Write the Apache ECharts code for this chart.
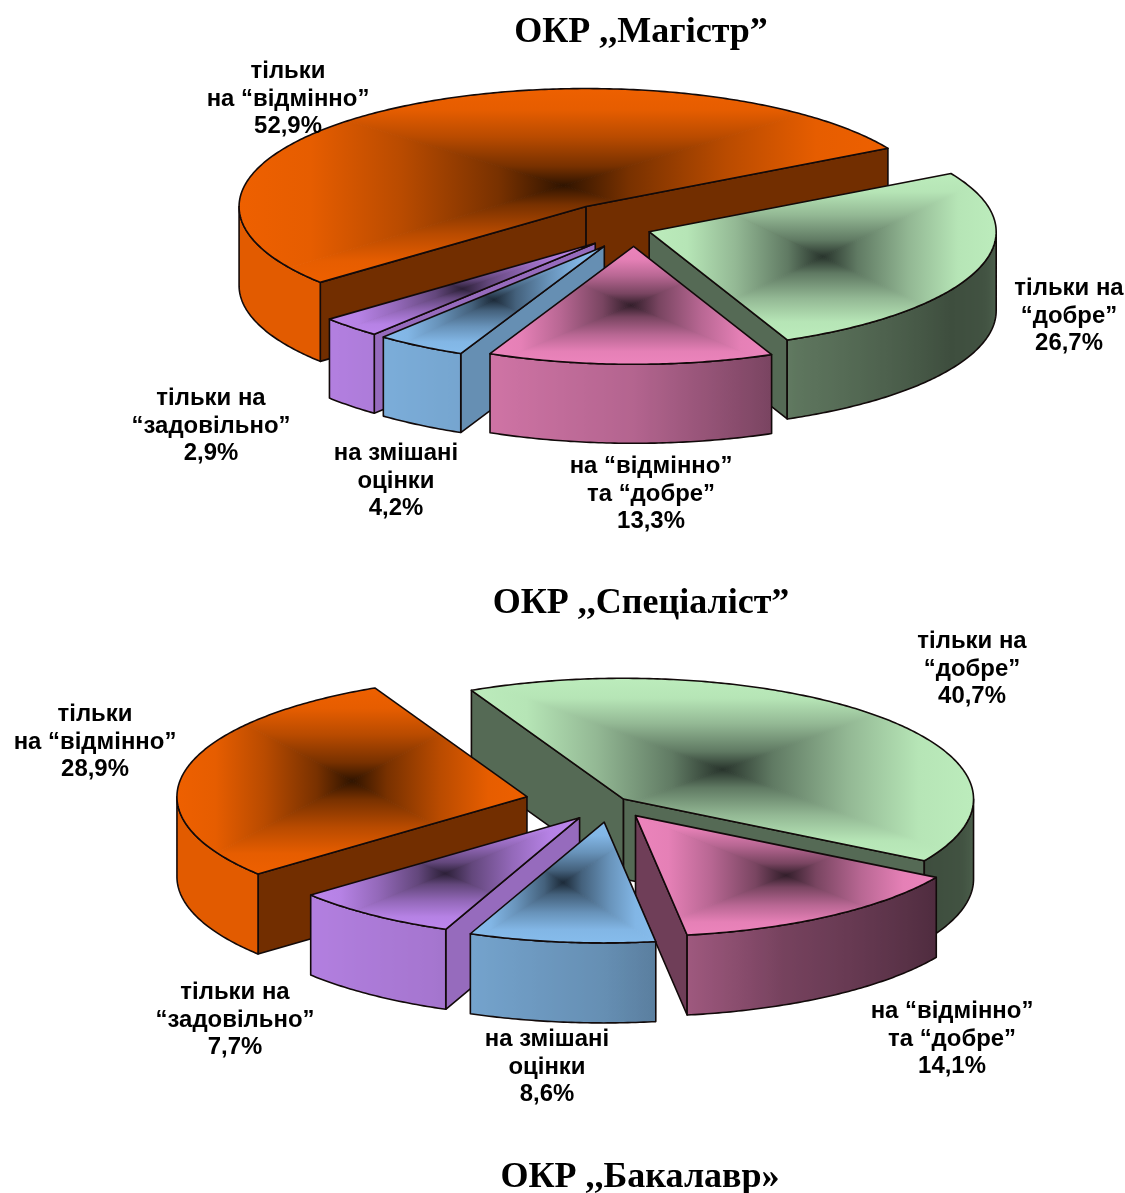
<!DOCTYPE html>
<html>
<head>
<meta charset="utf-8">
<style>html,body{margin:0;padding:0;background:#fff}#c{width:1125px;height:1193px}</style>
<script src="https://cdn.jsdelivr.net/npm/echarts@6/dist/echarts.min.js"></script>
</head>
<body>
<div id="c"></div>
<script>
// ---- data ----
const titleTexts = ['ОКР ,,Магістр”', 'ОКР ,,Спеціаліст”', 'ОКР ,,Бакалавр»'];
const sliceKeys = ['orange', 'green', 'pink', 'blue', 'purple'];
const labelLinesMagistr = [['тільки', 'на “відмінно”'], ['тільки на', '“добре”'], ['на “відмінно”', 'та “добре”'], ['на змішані', 'оцінки'], ['тільки на', '“задовільно”']];
const labelLinesSpecialist = [['тільки', 'на “відмінно”'], ['тільки на', '“добре”'], ['на “відмінно”', 'та “добре”'], ['на змішані', 'оцінки'], ['тільки на', '“задовільно”']];
const valuesMagistr = [52.9, 26.7, 13.3, 4.2, 2.9];
const valuesSpecialist = [28.9, 40.7, 14.1, 8.6, 7.7];

// ---- styling and layout ----
const palette = {
  orange: {top: [238, 96, 0], dark: [48, 20, 0], face: 0.48},
  green: {top: [188, 236, 188], dark: [40, 52, 44], face: 0.45},
  pink: {top: [236, 132, 188], dark: [50, 30, 42], face: 0.47},
  blue: {top: [134, 188, 236], dark: [28, 42, 56], face: 0.76},
  purple: {top: [188, 134, 236], dark: [44, 32, 56], face: 0.8}
};
const wallShadeByAngle = [[180, .95], [220, .95], [245, .88], [270, .76], [295, .5], [330, .33], [345, .35], [360, .42]];
const topRamp = [[0, 0], [.2, .38], [.5, .72], [.78, .96], [1, 1]];
const pies = [
  {values: valuesMagistr, lines: labelLinesMagistr, cx: 634, cy: 230, r: 347, k: 0.34, depth: 79, start: 220,
   explode: [84, 16, 48, 56, 55], order: [0, 1, 4, 3, 2],
   labelX: [288, 1069, 651, 396, 211], labelY: [72, 289, 467, 454, 399]},
  {values: valuesSpecialist, lines: labelLinesSpecialist, cx: 611, cy: 803, r: 350, k: 0.345, depth: 80, start: 219.8,
   explode: [86, 17, 44, 56, 53], order: [1, 0, 2, 4, 3],
   labelX: [95, 972, 952, 547, 235], labelY: [715, 642, 1012, 1040, 993]}
];
const titleX = [641, 641, 640], titleY = [33, 604, 1178];
const lineGap = 27.3;
const labelScaleX = 1.04;
const labelFont = 'bold 23px "Liberation Sans", Arial, sans-serif';
const titleFont = 'bold 36px "Liberation Serif", "Times New Roman", serif';
const strokeColor = '#120a0a';
const rad = Math.PI / 180;

const rgb = (c, s) => 'rgb(' + c.map(v => Math.round(v * (s === undefined ? 1 : s))).join(',') + ')';
function shadeAt(a) {
  for (let i = 1; i < wallShadeByAngle.length; i++) {
    const p = wallShadeByAngle[i - 1], q = wallShadeByAngle[i];
    if (a <= q[0]) return p[1] + (q[1] - p[1]) * (a - p[0]) / (q[0] - p[0]);
  }
  return .42;
}

function renderSlice(pie) {
  const total = pie.values.reduce((s, v) => s + v, 0);
  const spans = [];
  let acc = pie.start;
  pie.values.forEach(v => {
    const sweep = v / total * 360;
    spans.push({a0: acc - sweep, a1: acc});
    acc -= sweep;
  });
  return function (params, api) {
    const idx = api.value(1);
    const span = spans[idx];
    const mid = (span.a0 + span.a1) / 2 * rad;
    const ox = pie.cx + pie.explode[idx] * Math.cos(mid);
    const oy = pie.cy - pie.explode[idx] * Math.sin(mid) * pie.k;
    const P = a => [ox + pie.r * Math.cos(a * rad), oy - pie.r * Math.sin(a * rad) * pie.k];
    const drop = p => [p[0], p[1] + pie.depth];
    const pal = palette[sliceKeys[idx]];
    const apex = [ox, oy];
    const arc = [];
    const N = Math.max(12, Math.ceil((span.a1 - span.a0) * 1.5));
    for (let i = 0; i <= N; i++) arc.push(P(span.a0 + (span.a1 - span.a0) * i / N));
    const topPts = [apex].concat(arc);
    const children = [];
    const line = {stroke: strokeColor, lineWidth: 1.6, lineJoin: 'round'};

    // cut faces
    const face = a => ({type: 'polygon', shape: {points: [apex, P(a), drop(P(a)), drop(apex)]},
      style: Object.assign({fill: rgb(pal.top, pal.face)}, line)});
    if (Math.cos(span.a1 * rad) < 0) children.push(face(span.a1));
    if (Math.cos(span.a0 * rad) > 0) children.push(face(span.a0));

    // outer wall: the part of the rim in the front half
    const ranges = [];
    for (const shift of [0, 360, -360]) {
      const lo = Math.max(span.a0 + shift, 180), hi = Math.min(span.a1 + shift, 360);
      if (hi > lo) ranges.push([lo, hi]);
    }
    ranges.forEach(([lo, hi]) => {
      const M = Math.max(8, Math.ceil((hi - lo) * 1.5));
      const rim = [];
      for (let i = 0; i <= M; i++) rim.push(P(lo + (hi - lo) * i / M));
      const xs = rim.map(p => p[0]);
      const xMin = Math.min(...xs), xMax = Math.max(...xs);
      const stops = rim.map((p, i) => ({
        offset: Math.min(1, Math.max(0, (p[0] - xMin) / (xMax - xMin))),
        color: rgb(pal.top, shadeAt(lo + (hi - lo) * i / M))
      })).sort((a, b) => a.offset - b.offset);
      children.push({type: 'polygon', shape: {points: rim.concat(rim.map(drop).reverse())},
        style: Object.assign({fill: {type: 'linear', x: xMin, y: 0, x2: xMax, y2: 0, global: true, colorStops: stops}}, line)});
    });

    // top face: rectangular gradient from the centre of its bounding box
    const tx = topPts.map(p => p[0]), ty = topPts.map(p => p[1]);
    const x0 = Math.min(...tx), x1 = Math.max(...tx), y0 = Math.min(...ty), y1 = Math.max(...ty);
    const mx = (x0 + x1) / 2, my = (y0 + y1) / 2;
    const stops = topRamp.map(([o, m]) => ({
      offset: o,
      color: rgb(pal.dark.map((d, i) => d + (pal.top[i] - d) * m))
    }));
    const wedge = (a, b, ex, ey) => {
      const g = {type: 'linear', x: mx, y: my, x2: ex, y2: ey, global: true, colorStops: stops};
      return {type: 'polygon', shape: {points: [[mx, my], a, b]}, style: {fill: g, stroke: g, lineWidth: 1}};
    };
    children.push({
      type: 'group',
      clipPath: {type: 'polygon', shape: {points: topPts}},
      children: [
        wedge([x0, y0], [x1, y0], mx, y0),
        wedge([x0, y1], [x1, y1], mx, y1),
        wedge([x0, y0], [x0, y1], x0, my),
        wedge([x1, y0], [x1, y1], x1, my)
      ]
    });
    children.push({type: 'polygon', shape: {points: topPts}, style: Object.assign({fill: 'none'}, line)});
    return {type: 'group', children};
  };
}

const series = pies.map(pie => ({
  type: 'custom',
  coordinateSystem: 'none',
  silent: true,
  animation: false,
  clip: false,
  renderItem: renderSlice(pie),
  data: pie.order.map(i => [pie.values[i], i])
}));

const texts = [];
titleTexts.forEach((t, i) => texts.push({
  type: 'text', x: titleX[i], y: titleY[i], z: 100, silent: true,
  style: {text: t, font: titleFont, fill: '#000', align: 'center', verticalAlign: 'middle'}
}));
pies.forEach(pie => pie.values.forEach((v, i) => {
  const rows = pie.lines[i].concat(v.toFixed(1).replace('.', ',') + '%');
  rows.forEach((row, j) => texts.push({
    type: 'text', x: pie.labelX[i], y: pie.labelY[i] + j * lineGap, scaleX: labelScaleX, z: 100, silent: true,
    style: {text: row, font: labelFont, fill: '#000', align: 'center', verticalAlign: 'middle'}
  }));
}));

const chart = echarts.init(document.getElementById('c'), null, {renderer: 'canvas'});
chart.setOption({
  backgroundColor: '#fff',
  animation: false,
  series,
  graphic: {elements: texts}
});
</script>
</body>
</html>
